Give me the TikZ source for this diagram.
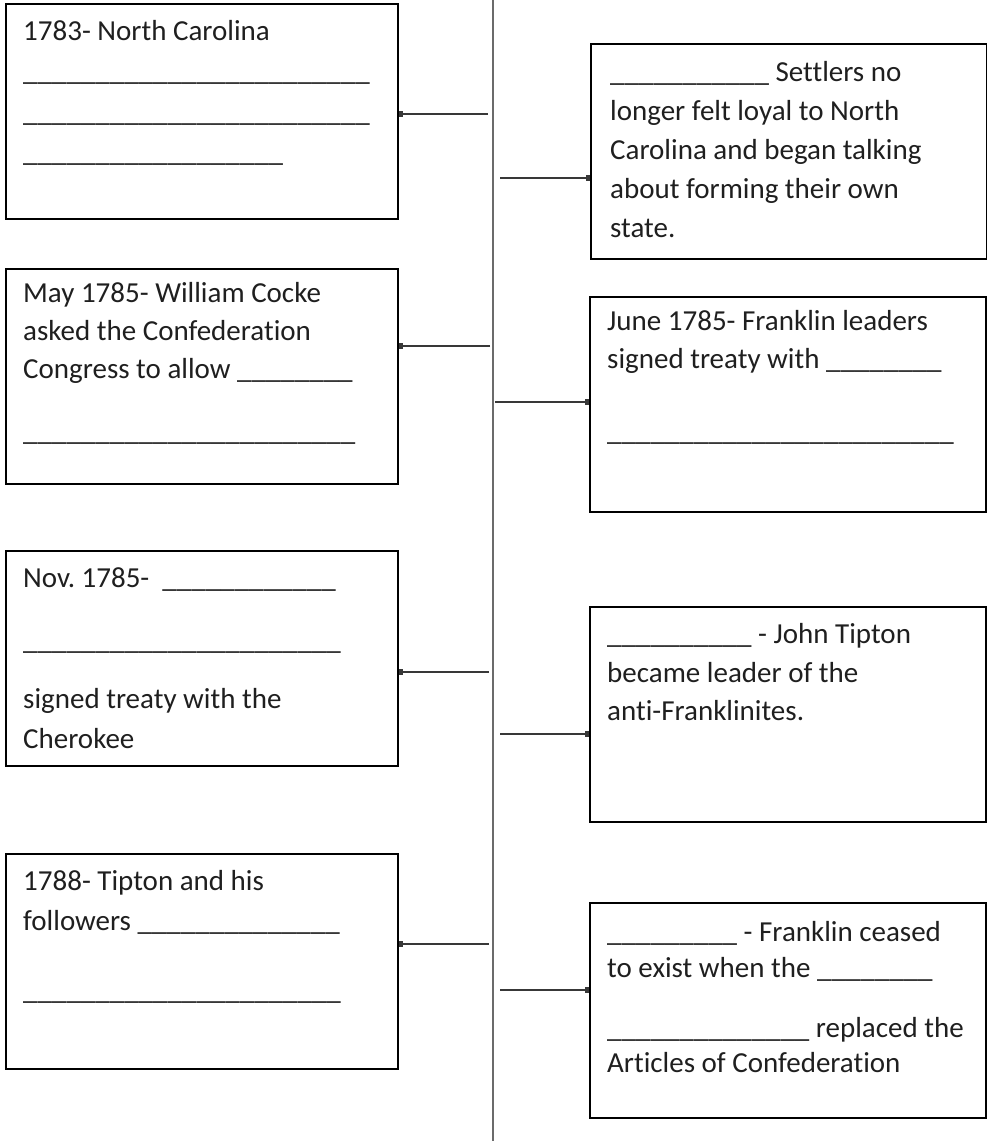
\documentclass[tikz,border=0pt]{standalone}
\usepackage{fontspec}
\setmainfont{Carlito}[Ligatures=NoCommon]
\usetikzlibrary{arrows.meta}
\frenchspacing

\tikzset{
    box/.style={draw=black, line width=2pt, anchor=north west, inner sep=0pt},
    leftbox/.style={box, minimum width=392pt, minimum height=215pt},
    rightbox/.style={box, minimum width=396pt, minimum height=215pt},
    txt/.style={anchor=base west, inner sep=0pt, text=black!88, font=\fontsize{29}{38}\selectfont},
    link/.style={draw=black!78, line width=2.2pt, -{Square[length=4pt,width=6pt]}},
    timeline/.style={draw=black!58, line width=2pt}
}
\newcommand{\blank}[1]{\foreach \k in {1,...,#1}{\_}}

\begin{document}
\begin{tikzpicture}[x=1pt, y=-1pt]
    \useasboundingbox (0,0) rectangle (987,1141);

    \coordinate (top) at (493,0);
    \coordinate (bottom) at (493,1141);
    \draw[timeline] (top) -- (bottom);

    \node[leftbox] (L1) at (5,3) {};
    \node[leftbox] (L2) at (5,268) {};
    \node[leftbox] (L3) at (5,550) {};
    \node[leftbox] (L4) at (5,853) {};

    \node[rightbox] (R1) at (590,43) {};
    \node[rightbox] (R2) at (589,296) {};
    \node[rightbox] (R3) at (589,606) {};
    \node[rightbox] (R4) at (589,902) {};

    \node[txt] (l1a) at (23,40) {1783- North Carolina};
    \node[txt] (l1b) at (23,80) {\blank{24}};
    \node[txt] (l1c) at (23,121) {\blank{24}};
    \node[txt] (l1d) at (23,161) {\blank{18}};

    \node[txt] (l2a) at (23,302) {May 1785- William Cocke};
    \node[txt] (l2b) at (23,340) {asked the Confederation};
    \node[txt] (l2c) at (23,378) {Congress to allow \blank{8}};
    \node[txt] (l2d) at (23,440) {\blank{23}};

    \node[txt] (l3a) at (23,587) {Nov. 1785-\ \ \blank{12}};
    \node[txt] (l3b) at (23,649) {\blank{22}};
    \node[txt] (l3c) at (23,708) {signed treaty with the};
    \node[txt] (l3d) at (23,748) {Cherokee};

    \node[txt] (l4a) at (23,890) {1788- Tipton and his};
    \node[txt] (l4b) at (23,930) {followers \blank{14}};
    \node[txt] (l4c) at (23,999) {\blank{22}};

    \node[txt] (r1a) at (610,81) {\blank{11} Settlers no};
    \node[txt] (r1b) at (610,120) {longer felt loyal to North};
    \node[txt] (r1c) at (610,159) {Carolina and began talking};
    \node[txt] (r1d) at (610,198) {about forming their own};
    \node[txt] (r1e) at (610,237) {state.};

    \node[txt] (r2a) at (607,330) {June 1785- Franklin leaders};
    \node[txt] (r2b) at (607,368) {signed treaty with \blank{8}};
    \node[txt] (r2c) at (607,440) {\blank{24}};

    \node[txt] (r3a) at (607,643) {\blank{10} - John Tipton};
    \node[txt] (r3b) at (607,682) {became leader of the};
    \node[txt] (r3c) at (607,720) {anti-Franklinites.};

    \node[txt] (r4a) at (607,941) {\blank{9} - Franklin ceased};
    \node[txt] (r4b) at (607,977) {to exist when the \blank{8}};
    \node[txt] (r4c) at (607,1037) {\blank{14} replaced the};
    \node[txt] (r4d) at (607,1072) {Articles of Confederation};

    \coordinate (a1) at (488,114);
    \coordinate (a2) at (490,346);
    \coordinate (a3) at (489,672);
    \coordinate (a4) at (489,944);
    \coordinate (b1) at (500,178);
    \coordinate (b2) at (495,402);
    \coordinate (b3) at (500,734);
    \coordinate (b4) at (500,990);

    \draw[link] (a1) -- (a1 -| L1.east);
    \draw[link] (a2) -- (a2 -| L2.east);
    \draw[link] (a3) -- (a3 -| L3.east);
    \draw[link] (a4) -- (a4 -| L4.east);
    \draw[link] (b1) -- (b1 -| R1.west);
    \draw[link] (b2) -- (b2 -| R2.west);
    \draw[link] (b3) -- (b3 -| R3.west);
    \draw[link] (b4) -- (b4 -| R4.west);
\end{tikzpicture}
\end{document}
